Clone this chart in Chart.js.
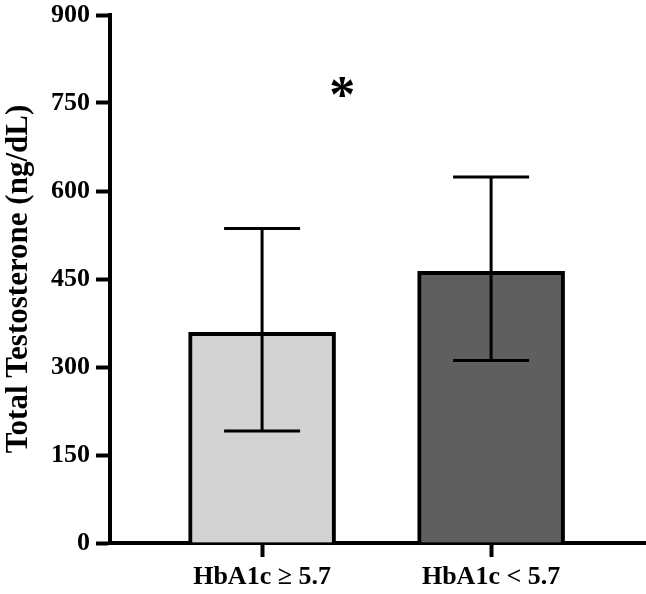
<!DOCTYPE html>
<html>
<head>
<meta charset="utf-8">
<script src="https://cdn.jsdelivr.net/npm/chart.js@4"></script>
<style>
  html, body { margin: 0; padding: 0; background: #fff; }
  #wrap { width: 646px; height: 594px; }
</style>
</head>
<body>
<div id="wrap"><canvas id="testo"></canvas></div>
<script>
  "use strict";

  // data
  var groups = ['HbA1c \u2265 5.7', 'HbA1c < 5.7'];
  var means = [359, 463];
  var errLow = [191, 311];
  var errHigh = [536, 624];
  var barColors = ['#d3d3d3', '#5f5f5f'];
  var yTicks = [0, 150, 300, 450, 600, 750, 900];
  var sigMark = { x: 1.35, y: 775, text: '*' };

  var serif = '"Liberation Serif", "Times New Roman", serif';

  // error bars + significance star
  var errorBars = {
    id: 'errorBars',
    afterDatasetsDraw: function(chart) {
      var ctx = chart.ctx;
      var xs = chart.scales.x, ys = chart.scales.y;
      ctx.save();
      ctx.strokeStyle = '#000';
      ctx.lineWidth = 3;
      for (var i = 0; i < means.length; i++) {
        var px = xs.getPixelForValue(i + 1);
        var top = ys.getPixelForValue(errHigh[i]);
        var bot = ys.getPixelForValue(errLow[i]);
        var half = 38;
        ctx.beginPath();
        ctx.moveTo(px, top); ctx.lineTo(px, bot);
        ctx.moveTo(px - half, top); ctx.lineTo(px + half, top);
        ctx.moveTo(px - half, bot); ctx.lineTo(px + half, bot);
        ctx.stroke();
      }
      ctx.fillStyle = '#000';
      ctx.font = 'bold 52px ' + serif;
      ctx.textAlign = 'center';
      ctx.textBaseline = 'middle';
      ctx.fillText(sigMark.text, xs.getPixelForValue(sigMark.x), ys.getPixelForValue(sigMark.y) + 10);
      ctx.restore();
    }
  };

  new Chart('testo', {
    type: 'bar',
    data: {
      datasets: [{
        data: means.map(function(v, i) { return { x: i + 1, y: v }; }),
        backgroundColor: barColors,
        borderColor: '#000',
        borderWidth: 4,
        borderSkipped: 'bottom',
        barThickness: 147
      }]
    },
    options: {
      responsive: true,
      maintainAspectRatio: false,
      animation: false,
      layout: { padding: { top: 15, right: 1, left: 0, bottom: 0 } },
      plugins: {
        legend: false,
        tooltip: false
      },
      scales: {
        x: {
          type: 'linear',
          offset: false,
          min: 0.336,
          max: 2.672,
          afterBuildTicks: function(scale) {
            scale.ticks = groups.map(function(g, i) { return { value: i + 1 }; });
          },
          afterFit: function(scale) { scale.height = 51; },
          border: { display: true, color: '#000', width: 4 },
          grid: {
            offset: false,
            drawOnChartArea: false,
            drawTicks: true,
            tickLength: 14,
            tickWidth: 4,
            tickColor: '#000'
          },
          ticks: {
            color: '#000',
            padding: 5,
            maxRotation: 0,
            autoSkip: false,
            font: { family: serif, weight: 'bold', size: 26 },
            callback: function(v) { return groups[v - 1]; }
          }
        },
        y: {
          min: 0,
          max: 900,
          afterBuildTicks: function(scale) {
            scale.ticks = yTicks.map(function(v) { return { value: v }; });
          },
          afterFit: function(scale) {
            scale.width = 110;
            scale.paddingTop = 0;
          },
          border: { display: true, color: '#000', width: 4 },
          grid: {
            drawOnChartArea: false,
            drawTicks: true,
            tickLength: 14,
            tickWidth: 4,
            tickColor: '#000'
          },
          ticks: {
            color: '#000',
            padding: 6,
            font: { family: serif, weight: 'bold', size: 26 }
          },
          title: {
            display: true,
            text: 'Total Testosterone (ng/dL)',
            color: '#000',
            padding: { top: 0, bottom: 0 },
            font: { family: serif, weight: 'bold', size: 31 }
          }
        }
      }
    },
    plugins: [errorBars]
  });
</script>
</body>
</html>
